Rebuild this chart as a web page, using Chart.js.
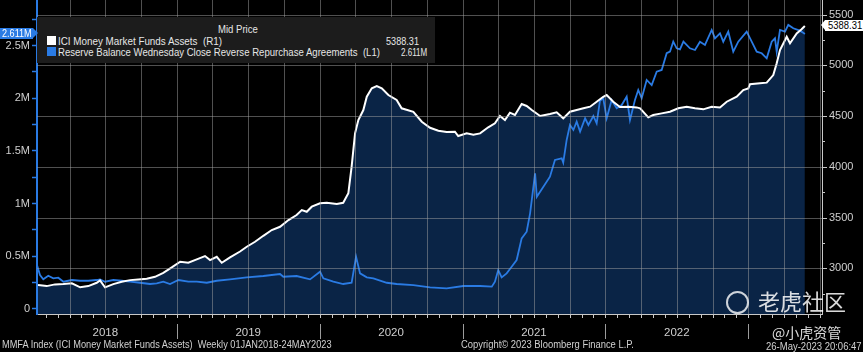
<!DOCTYPE html>
<html>
<head>
<meta charset="utf-8">
<title>MMFA Index</title>
<script src="https://cdn.jsdelivr.net/npm/chart.js"></script>
<style>
    body { margin: 0; background: #000; }
    .wrap {
        position: relative;
        width: 863px;
        height: 352px;
        background: #000;
        overflow: hidden;
        font-family: "Liberation Sans", Arial, sans-serif;
        color: #d6d6d6;
    }
    .wrap canvas { position: absolute; left: 0; top: 0; }
    .abs { position: absolute; white-space: nowrap; line-height: 1; transform-origin: 0 0; }
    .legend {
        position: absolute;
        left: 37px; top: 17px;
        width: 398px; height: 46px;
        background: #1c1c1c;
        font-size: 10.5px;
        color: #e6e6e6;
    }
    .swatch { position: absolute; width: 9px; height: 9px; }
    .tag { position: absolute; font-size: 10px; line-height: 11px; height: 11px; }
    .tag-left { left: 0; top: 28px; width: 33px; background: #2a7be4; color: #fff; }
    .tag-left:after {
        content: ""; position: absolute; right: -5px; top: 0;
        border-top: 5.5px solid transparent; border-bottom: 5.5px solid transparent;
        border-left: 5px solid #2a7be4;
    }
    .tag-right { left: 825px; top: 20px; width: 38px; background: #fff; color: #000; }
    .tag-right:before {
        content: ""; position: absolute; left: -4px; top: 0;
        border-top: 5.5px solid transparent; border-bottom: 5.5px solid transparent;
        border-right: 4px solid #fff;
    }
    .tag .abs { top: 1px; }
    .footer { font-size: 10px; color: #d0d0d0; top: 340px; }
    .wm { color: rgba(255,255,255,0.85); font-family: "Noto Sans CJK SC", sans-serif; }
    .logo {
        position: absolute; left: 726px; top: 291px; width: 19px; height: 19px;
        border: 2px solid rgba(255,255,255,0.8); border-radius: 50%;
    }
</style>
</head>
<body>
<div class="wrap">
    <canvas id="mmfChart" width="863" height="352"></canvas>

    <div class="legend">
        <div class="abs fit" data-w="40" style="left:181px; top:7px;">Mid Price</div>
        <div class="swatch" style="left:10px; top:19px; background:#fff;"></div>
        <div class="abs fit" data-w="164" style="left:21px; top:19px;">ICI Money Market Funds Assets&nbsp; (R1)</div>
        <div class="abs fit" data-w="33" id="mmfLast" style="left:349px; top:19px;"></div>
        <div class="swatch" style="left:10px; top:30px; background:#2a7be4;"></div>
        <div class="abs fit" data-w="322" style="left:21px; top:30px;">Reserve Balance Wednesday Close Reverse Repurchase Agreements&nbsp; (L1)</div>
        <div class="abs fit" data-w="26" id="rrpLast" style="left:364px; top:30px;"></div>
    </div>

    <div class="tag tag-left"><div class="abs fit" data-w="30" id="rrpTag" style="left:2px;"></div></div>
    <div class="tag tag-right"><div class="abs fit" data-w="34" id="mmfTag" style="left:3px;"></div></div>

    <div class="abs footer fit" data-w="330" style="left:2px;">MMFA Index (ICI Money Market Funds Assets)&nbsp; Weekly 01JAN2018-24MAY2023</div>
    <div class="abs footer fit" data-w="173" style="left:461px;">Copyright© 2023 Bloomberg Finance L.P.</div>
    <div class="abs footer fit" data-w="96" style="left:766px; top:342px;">26-May-2023 20:06:47</div>

    <div class="logo"></div>
    <div class="abs wm" style="left:758px; top:289px; font-size:22px;">老虎社区</div>
    <div class="abs wm" style="left:772px; top:325px; font-size:14px;">@小虎资管</div>
</div>

<script>
// ICI Money Market Funds Assets (R1), weekly
const mmfYears = [
    2018.029, 2018.090, 2018.148, 2018.207, 2018.266, 2018.324, 2018.381, 2018.440, 2018.463, 2018.498,
    2018.556, 2018.615, 2018.674, 2018.731, 2018.790, 2018.848, 2018.906, 2018.965, 2019.024, 2019.081,
    2019.140, 2019.198, 2019.233, 2019.280, 2019.315, 2019.373, 2019.443, 2019.490, 2019.548, 2019.606,
    2019.665, 2019.723, 2019.782, 2019.839, 2019.875, 2019.910, 2019.945, 2020.003, 2020.050, 2020.120,
    2020.165, 2020.201, 2020.224, 2020.248, 2020.271, 2020.306, 2020.330, 2020.365, 2020.400, 2020.435,
    2020.481, 2020.539, 2020.574, 2020.656, 2020.715, 2020.773, 2020.831, 2020.889, 2020.947, 2020.970,
    2021.029, 2021.076, 2021.123, 2021.180, 2021.227, 2021.262, 2021.297, 2021.332, 2021.367, 2021.414,
    2021.449, 2021.485, 2021.543, 2021.612, 2021.659, 2021.705, 2021.752, 2021.799, 2021.846, 2021.893,
    2021.939, 2021.985, 2022.009, 2022.055, 2022.102, 2022.161, 2022.219, 2022.243, 2022.300, 2022.335,
    2022.394, 2022.452, 2022.510, 2022.569, 2022.627, 2022.685, 2022.744, 2022.802, 2022.849, 2022.919,
    2022.965, 2023.000, 2023.012, 2023.082, 2023.129, 2023.175, 2023.199, 2023.222, 2023.269, 2023.292,
    2023.339, 2023.373, 2023.396
];
const mmfValues = [
    2834, 2824, 2841, 2844, 2851, 2812, 2824, 2857, 2880, 2812,
    2844, 2867, 2883, 2890, 2896, 2916, 2955, 3008, 3064, 3054,
    3087, 3120, 3080, 3113, 3054, 3107, 3165, 3212, 3261, 3320,
    3377, 3409, 3475, 3525, 3574, 3557, 3607, 3640, 3646, 3633,
    3646, 3739, 4001, 4330, 4462, 4560, 4691, 4774, 4797, 4774,
    4708, 4659, 4577, 4543, 4445, 4385, 4356, 4343, 4346, 4304,
    4330, 4317, 4330, 4390, 4429, 4501, 4462, 4534, 4511, 4619,
    4600, 4560, 4501, 4521, 4537, 4478, 4543, 4560, 4577, 4593,
    4642, 4691, 4708, 4642, 4590, 4593, 4586, 4577, 4488, 4511,
    4527, 4543, 4577, 4593, 4577, 4567, 4593, 4586, 4642, 4691,
    4757, 4774, 4814, 4823, 4830, 4905, 5021, 5152, 5283, 5218,
    5316, 5356, 5388.31
];

// Reserve Balance Wednesday Close Reverse Repurchase Agreements (L1), in millions
const rrpYears = [
    2018.024, 2018.043, 2018.066, 2018.101, 2018.136, 2018.171, 2018.207, 2018.266, 2018.324, 2018.381,
    2018.440, 2018.463, 2018.498, 2018.556, 2018.615, 2018.674, 2018.743, 2018.813, 2018.860, 2018.906,
    2018.953, 2019.012, 2019.081, 2019.140, 2019.210, 2019.280, 2019.373, 2019.490, 2019.606, 2019.723,
    2019.746, 2019.839, 2019.933, 2020.003, 2020.026, 2020.096, 2020.165, 2020.224, 2020.255, 2020.283,
    2020.330, 2020.376, 2020.470, 2020.539, 2020.656, 2020.773, 2020.889, 2021.006, 2021.123, 2021.205,
    2021.227, 2021.250, 2021.274, 2021.309, 2021.344, 2021.379, 2021.414, 2021.449, 2021.473, 2021.508,
    2021.520, 2021.566, 2021.612, 2021.647, 2021.694, 2021.705, 2021.729, 2021.752, 2021.776, 2021.799,
    2021.823, 2021.858, 2021.881, 2021.916, 2021.939, 2021.962, 2021.985, 2022.009, 2022.044, 2022.079,
    2022.114, 2022.149, 2022.172, 2022.207, 2022.230, 2022.254, 2022.289, 2022.324, 2022.359, 2022.394,
    2022.429, 2022.452, 2022.475, 2022.499, 2022.522, 2022.546, 2022.592, 2022.627, 2022.662, 2022.697,
    2022.744, 2022.767, 2022.802, 2022.825, 2022.860, 2022.895, 2022.930, 2022.989, 2023.024, 2023.059,
    2023.094, 2023.129, 2023.164, 2023.187, 2023.199, 2023.222, 2023.257, 2023.280, 2023.315, 2023.361,
    2023.384, 2023.396
];
const rrpValues = [
    0.406, 0.320, 0.280, 0.314, 0.289, 0.295, 0.257, 0.273, 0.266, 0.266,
    0.273, 0.279, 0.257, 0.273, 0.266, 0.257, 0.247, 0.235, 0.241, 0.257,
    0.235, 0.273, 0.257, 0.257, 0.247, 0.266, 0.279, 0.298, 0.311, 0.330,
    0.304, 0.311, 0.279, 0.352, 0.289, 0.257, 0.235, 0.247, 0.494, 0.336,
    0.298, 0.289, 0.247, 0.235, 0.225, 0.203, 0.194, 0.216, 0.216, 0.210,
    0.257, 0.368, 0.298, 0.336, 0.399, 0.463, 0.669, 0.732, 0.907, 1.287,
    1.065, 1.160, 1.255, 1.414, 1.430, 1.388, 1.604, 1.746, 1.699, 1.778,
    1.683, 1.810, 1.746, 1.832, 1.762, 1.977, 2.000, 1.810, 1.984, 1.905,
    1.936, 2.015, 1.794, 1.984, 2.079, 2.000, 2.174, 2.126, 2.253, 2.269,
    2.428, 2.443, 2.538, 2.475, 2.465, 2.538, 2.475, 2.459, 2.538, 2.507,
    2.649, 2.570, 2.618, 2.538, 2.633, 2.443, 2.538, 2.633, 2.538, 2.443,
    2.428, 2.380, 2.538, 2.570, 2.443, 2.649, 2.633, 2.697, 2.665, 2.643,
    2.624, 2.611
];

// axis labels
const yearLabels = ['2018', '2019', '2020', '2021', '2022'];
const leftTickValues = [0, 0.5, 1, 1.5, 2, 2.5];
const leftTickLabels = ['0', '0.5M', '1M', '1.5M', '2M', '2.5M'];
const rightTickValues = [3000, 3500, 4000, 4500, 5000, 5500];

const BLUE = '#2a7be4';
const AXIS = '#c8c8c8';
const LABEL = '#cfcfcf';
const GRID = 'rgba(160,160,160,0.5)';
const NONE = 'rgba(0,0,0,0)';

// last values in the legend and the axis tags
const mmfLast = mmfValues[mmfValues.length - 1].toFixed(2);
const rrpLast = rrpValues[rrpValues.length - 1].toFixed(3) + 'M';
document.getElementById('mmfLast').textContent = mmfLast;
document.getElementById('mmfTag').textContent = mmfLast;
document.getElementById('rrpLast').textContent = rrpLast;
document.getElementById('rrpTag').textContent = rrpLast;

// squeeze the html texts to the widths of the picture
document.querySelectorAll('.fit').forEach(el => {
    el.style.transform = 'scaleX(' + (Number(el.dataset.w) / el.offsetWidth) + ')';
});

// month index from Jan 2018
const monthOf = v => Math.round((v - 2018) * 12);

// grid on top of the fill, tick marks, and the "|" marks between years
const gridOverlay = {
    id: 'gridOverlay',
    afterDraw(chart) {
        const ctx = chart.ctx;
        const x = chart.scales.x;
        const y1 = chart.scales.y1;
        const { left, right, top, bottom } = chart.chartArea;
        const line = (x0, y0, x1, yy1) => {
            ctx.beginPath(); ctx.moveTo(x0, y0); ctx.lineTo(x1, yy1); ctx.stroke();
        };
        ctx.save();
        ctx.lineWidth = 1;
        ctx.strokeStyle = GRID;
        x.ticks.forEach(t => {
            if (monthOf(t.value) % 3 !== 0) return;
            const px = Math.round(x.getPixelForValue(t.value)) + 0.5;
            line(px, top, px, bottom);
        });
        y1.ticks.forEach(t => {
            if (!rightTickValues.includes(t.value)) return;
            const py = Math.round(y1.getPixelForValue(t.value)) + 0.5;
            line(left, py, right, py);
        });
        ctx.strokeStyle = AXIS;
        x.ticks.forEach(t => {
            const px = Math.round(x.getPixelForValue(t.value)) + 0.5;
            line(px, bottom, px, bottom + 4);
        });
        y1.ticks.forEach(t => {
            const py = Math.round(y1.getPixelForValue(t.value)) + 0.5;
            line(right, py, right + (rightTickValues.includes(t.value) ? 5 : 3), py);
        });
        ctx.strokeStyle = '#9c9c9c';
        for (let yr = 2019; yr <= 2023; yr++) {
            const px = Math.round(x.getPixelForValue(yr)) + 0.5;
            line(px, 324, px, 339);
        }
        ctx.restore();
    }
};

Chart.defaults.font.family = '"Liberation Sans Narrow", "Liberation Sans", Arial, sans-serif';
Chart.defaults.font.size = 11;

new Chart(document.getElementById('mmfChart'), {
    type: 'line',
    data: {
        datasets: [
            {
                label: 'ICI Money Market Funds Assets (R1)',
                data: mmfYears.map((t, i) => ({ x: t, y: mmfValues[i] })),
                yAxisID: 'y1',
                borderColor: '#ffffff',
                borderWidth: 2,
                backgroundColor: '#0a2446',
                fill: 'start',
                pointRadius: 0,
                tension: 0
            },
            {
                label: 'Reserve Balance Wednesday Close Reverse Repurchase Agreements (L1)',
                data: rrpYears.map((t, i) => ({ x: t, y: rrpValues[i] })),
                yAxisID: 'y',
                borderColor: BLUE,
                borderWidth: 1.8,
                fill: false,
                pointRadius: 0,
                tension: 0
            }
        ]
    },
    options: {
        responsive: false,
        animation: false,
        devicePixelRatio: 1,
        layout: { padding: 0 },
        plugins: {
            legend: { display: false },
            tooltip: { enabled: false },
            filler: { drawTime: 'beforeDatasetsDraw' }
        },
        scales: {
            x: {
                type: 'linear',
                min: 2018.022,
                max: 2023.516,
                afterBuildTicks: s => {
                    s.ticks = [];
                    for (let k = 1; k <= 66; k++) s.ticks.push({ value: 2018 + k / 12 });
                },
                afterFit: s => { s.height = 38; s.paddingLeft = 0; s.paddingRight = 0; },
                ticks: {
                    autoSkip: false,
                    maxRotation: 0,
                    padding: 8,
                    color: LABEL,
                    font: { size: 11.5 },
                    callback: v => {
                        const k = monthOf(v);
                        return (k % 12 === 6 && k < 66) ? yearLabels[(k - 6) / 12] : '';
                    }
                },
                grid: { color: NONE, tickColor: NONE, tickLength: 4 },
                border: { color: AXIS, width: 1 }
            },
            y: {
                position: 'left',
                min: -0.05,
                max: 2.934,
                afterBuildTicks: s => {
                    s.ticks = [];
                    for (let k = 0; k <= 11; k++) s.ticks.push({ value: k * 0.25 });
                },
                afterFit: s => { s.width = 37; s.paddingTop = 0; s.paddingBottom = 0; },
                ticks: {
                    padding: 2,
                    color: LABEL,
                    callback: v => {
                        const i = leftTickValues.indexOf(v);
                        return i >= 0 ? leftTickLabels[i] : '';
                    }
                },
                grid: {
                    drawOnChartArea: false,
                    tickColor: BLUE,
                    tickLength: 5,
                    tickWidth: 1.5
                },
                border: { color: BLUE, width: 2 }
            },
            y1: {
                position: 'right',
                min: 2549,
                max: 5645,
                afterBuildTicks: s => {
                    s.ticks = [];
                    for (let v = 2750; v <= 5500; v += 250) s.ticks.push({ value: v });
                },
                afterFit: s => { s.width = 41; s.paddingTop = 0; s.paddingBottom = 0; },
                ticks: {
                    padding: 2,
                    color: LABEL,
                    callback: v => rightTickValues.includes(v) ? String(v) : ''
                },
                grid: { color: NONE, tickColor: NONE, tickLength: 5 },
                border: { color: AXIS, width: 1 }
            }
        }
    },
    plugins: [gridOverlay]
});
</script>
</body>
</html>
